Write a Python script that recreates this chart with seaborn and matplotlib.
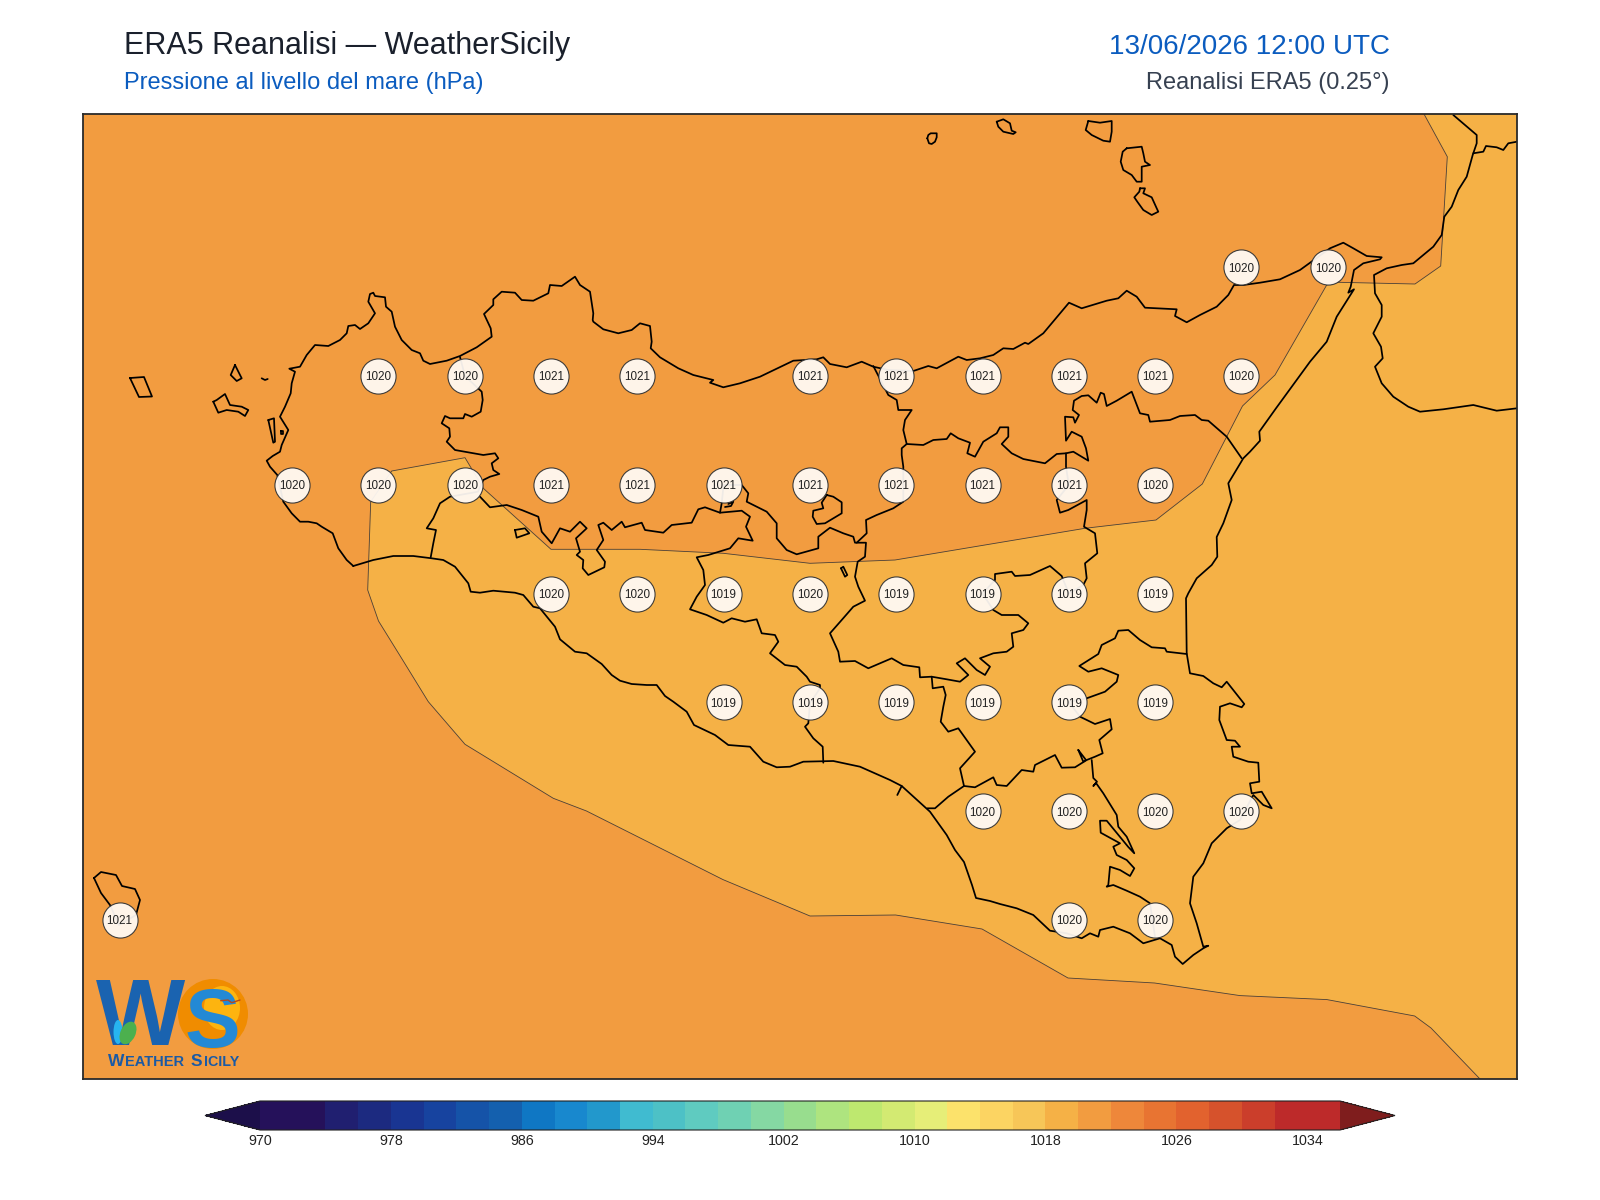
import numpy as np
import pandas as pd
import seaborn as sns
import matplotlib.pyplot as plt
from matplotlib.cm import ScalarMappable
from matplotlib.colors import BoundaryNorm, ListedColormap
from matplotlib.patches import Circle, Ellipse

# Pressure read at the ERA5 grid points
LABEL_LON = [15.25, 15.5,
             12.75, 13.0, 13.25, 13.5, 14.0, 14.25, 14.5, 14.75, 15.0, 15.25,
             12.5, 12.75, 13.0, 13.25, 13.5, 13.75, 14.0, 14.25, 14.5, 14.75, 15.0,
             13.25, 13.5, 13.75, 14.0, 14.25, 14.5, 14.75, 15.0,
             13.75, 14.0, 14.25, 14.5, 14.75, 15.0,
             14.5, 14.75, 15.0, 15.25,
             12.0, 14.75, 15.0]
LABEL_LAT = [38.25] * 2 + [38.0] * 10 + [37.75] * 11 + [37.5] * 8 + [37.25] * 6 + [37.0] * 4 + [36.75] * 3
LABEL_HPA = [1020, 1020,
             1020, 1020, 1021, 1021, 1021, 1021, 1021, 1021, 1021, 1020,
             1020, 1020, 1020, 1021, 1021, 1021, 1021, 1021, 1021, 1021, 1020,
             1020, 1020, 1019, 1020, 1019, 1019, 1019, 1019,
             1019, 1019, 1019, 1019, 1019, 1019,
             1020, 1020, 1020, 1020,
             1021, 1020, 1020]

# Colour bar
LEVELS = list(range(970, 1037, 2))
TICKS = list(range(970, 1035, 8))
LEVEL_COLORS = ["#25115A", "#25115A", "#201F70", "#1C2A80", "#193592", "#17439F", "#1553A8", "#1460AE",
                "#0F77C4", "#1888CE", "#2298CC", "#40BBD0", "#4DC1C6", "#5FCBC0", "#6FD1B3", "#85D8A3",
                "#98DD8E", "#AEE47F", "#BEE86F", "#D3EA72", "#E6EE78", "#FCE26B", "#FCD462", "#F7C658",
                "#F5B146", "#F29C40", "#EE873A", "#E87432", "#E2622E", "#D6522C", "#CB3E2B", "#BD2A2A",
                "#BD2A2A"]
UNDER_COLOR = "#1C0F4A"
OVER_COLOR = "#7F1D1D"

# Map traces in image pixels (converted to lon/lat below)
ISO_1020 = [(1424, 114), (1447.3, 156.7), (1440.7, 266), (1415, 284), (1338.3, 282.3), (1326.7, 285), (1275, 375),
            (1242.5, 406), (1202.3, 484), (1156, 520), (1085, 528.3), (895, 560), (810, 563.3), (723.3, 553.3),
            (640, 549.3), (551, 549.3), (483.3, 488.3), (465, 457.7), (391.7, 471), (370.7, 501.7), (367.7, 590),
            (378.5, 621), (400, 655.7), (428.3, 701.7), (465, 744.3), (553.3, 798.3), (586.5, 811), (723, 879.6),
            (810, 916), (895.6, 915), (982, 929), (1068, 978), (1154.6, 983), (1240, 995.6), (1327, 999.6),
            (1414.7, 1016), (1431, 1028), (1480, 1079)]

COAST = [(353.3, 566), (346.7, 560), (338.3, 548.3), (332.7, 533.3), (321.7, 526.7), (316.7, 523.3), (308.3, 521.7),
         (300, 521.7), (291.7, 513.3), (283.3, 501.7), (277.3, 475), (270, 466.7), (266.7, 460.7), (272.7, 456),
         (280, 451.7), (281.7, 445), (288.3, 430), (280, 416.7), (285, 406.7), (290.7, 393.3), (291.7, 383.3),
         (295, 371.7), (289.3, 368.7), (300, 366.7), (306.7, 355), (315, 345), (328.3, 346), (340, 340),
         (346.7, 333.3), (348.3, 326), (355, 325), (360, 329), (368.3, 323.3), (375, 313.3), (368.3, 301.7),
         (370, 294), (373.3, 292.7), (375, 296), (385, 297.3), (386, 306.7), (391.7, 311.7), (395, 326.7),
         (401.7, 340), (411.7, 350), (420, 353.3), (423.3, 360.7), (430, 364), (446.7, 360.7), (460, 356),
         (476.7, 347.3), (491.7, 336.7), (490.7, 328.3), (484, 314), (493.3, 305), (493.3, 299.3), (501.7, 291.7),
         (515, 292.7), (521.7, 300), (533.3, 300.7), (548.3, 293.3), (550, 285), (561.7, 286), (575, 276.7),
         (580, 285), (590, 291.7), (593.3, 313.3), (592.7, 320), (593.3, 321.7), (603.3, 329.3), (618.3, 333.3),
         (631.7, 330), (640, 323.3), (650, 326), (651.7, 341.7), (650.7, 348.3), (660, 357.3), (678.3, 368.3),
         (693.3, 375), (713.3, 380), (710, 382.7), (723.3, 387.3), (740, 383.3), (760, 376.7), (793.3, 360.7),
         (816.7, 359.3), (823.3, 357.3), (830, 364), (846.7, 367.3), (861.7, 361.7), (873.3, 366.7), (888.3, 370),
         (913.3, 371), (928.3, 366), (936.7, 368.3), (958.3, 356.7), (966.7, 360), (980, 358.3), (993.3, 355),
         (1003.3, 348.3), (1013.3, 349), (1025, 342.7), (1028.3, 344), (1043.3, 333.3), (1069, 302.7),
         (1081.7, 308.3), (1106.7, 300.7), (1118.3, 298.3), (1126.7, 290.7), (1136.7, 296.7), (1145, 307.7),
         (1176.7, 309.3), (1175, 316), (1186.7, 322.3), (1200, 315), (1216.7, 306.7), (1228.3, 295), (1234, 285),
         (1243.3, 285), (1260, 282.7), (1280, 279.3), (1300, 270), (1330, 248.3), (1343.3, 242.7), (1353.3, 248.3),
         (1366.7, 256), (1381.7, 257.3), (1380, 259.3), (1363.3, 263.3), (1354, 270), (1350.7, 286.7),
         (1348.3, 292.7), (1354, 289.3), (1336.7, 316.7), (1326.7, 341.7), (1310, 361.7), (1276, 408.3),
         (1259.3, 431.7), (1260, 440.7), (1250, 451.7), (1243.3, 458.3), (1228.3, 483.3), (1231.7, 500),
         (1223.3, 523.3), (1216.7, 537), (1217.3, 556.7), (1211.7, 565), (1196.7, 578.3), (1188.3, 593.3),
         (1186, 598.3), (1186.7, 653.3), (1190, 673.3), (1203.3, 676), (1213.3, 683.3), (1221.7, 687.3),
         (1226.7, 681.7), (1244.3, 704), (1241.7, 707.3), (1230, 703.3), (1220, 706.7), (1219.3, 720), (1226.7, 740),
         (1235, 740.7), (1240, 746.7), (1231.7, 746.7), (1233.3, 756.7), (1248.3, 761.7), (1258.3, 762.7),
         (1259.3, 781.7), (1250, 783.3), (1251.7, 793.3), (1261.7, 791.7), (1271.7, 808.3), (1263.3, 805),
         (1253.3, 795), (1240, 820), (1226.7, 828.3), (1211.7, 843.3), (1203.3, 863.3), (1193.3, 876.7),
         (1190, 903.3), (1196.7, 923.3), (1203.3, 946.7), (1208.3, 945.7), (1203.3, 948.3), (1193.3, 955),
         (1182.7, 964), (1175, 956.7), (1171.7, 945), (1160, 938.3), (1143.3, 943.3), (1130, 933.3), (1113.3, 926.7),
         (1100, 930), (1098.3, 936.7), (1090, 933.3), (1081.7, 938.3), (1066.7, 933.3), (1050, 930.7), (1033.3, 915),
         (1016.7, 908.3), (1000, 904), (990, 901), (976, 898), (972, 885), (964, 862), (955, 850), (946.7, 835),
         (930, 811.7), (901.7, 786), (890, 780), (860, 766.7), (833.3, 761), (803.3, 761.7), (790, 766.7),
         (776.7, 767.3), (763.3, 761.7), (750, 746.7), (728.3, 745), (715, 735), (694, 725), (686.7, 711.7),
         (673.3, 701.7), (665, 696), (656.7, 685), (646.7, 685), (631.7, 684), (620, 680.7), (611.7, 675),
         (601.7, 664), (586.7, 653.3), (575, 651.7), (560, 639.3), (555, 626.7), (540, 608.3), (533.3, 606.7),
         (523.3, 595), (515, 592.7), (493.3, 590.7), (480, 592.7), (470.7, 591.7), (468.3, 583.3), (455, 566.7),
         (443.3, 560), (431.7, 558.3), (413.3, 556), (393.3, 556), (373.3, 560), (353.3, 566)]

GELA_STUB = [(901.7, 786), (897.3, 795)]

BORDER_TP_PA = [(460, 357), (465, 376), (481.7, 391.7), (482.7, 400), (480.7, 411.7), (471.7, 416.7), (465, 414),
                (463.3, 418.3), (450, 418.3), (445, 416), (441.7, 423.3), (449.3, 428.3), (450, 436.7), (446.7, 441.7),
                (455, 450), (483.3, 455), (495, 453.3), (498.3, 458.3), (491.7, 463.3), (493.3, 470), (499.3, 474),
                (490, 476.7), (483.3, 480), (478, 491.7), (450, 496.7), (440, 503.3), (433.3, 518.3), (426.7, 528.3),
                (436, 530), (433.3, 543.3), (430.7, 557.3)]

BORDER_PA_AG = [(480, 496.7), (490, 507.3), (506.7, 505), (521.7, 510), (538.3, 516.7), (541.7, 531.7), (551.7, 543.3),
                (560, 528.3), (570, 531.7), (580, 521.7), (586.7, 528.3), (576, 538.3), (580, 551.7), (576.7, 555),
                (583.3, 560), (582.7, 568.3), (588.3, 575), (604.3, 567.3), (605, 561.7), (596.7, 550), (603.3, 540),
                (598.3, 525), (603.3, 522.7), (611.7, 530), (621.7, 521.7), (625, 527.3), (641.7, 522.7), (645, 530),
                (663.3, 532.7), (671.7, 525), (691.7, 522.7), (698.3, 509.3), (705, 507.3), (720, 512.7),
                (741.7, 510.7), (750, 516.7), (746, 526.7), (752.7, 540.7), (738.3, 538.3), (730, 548.3),
                (708.3, 555), (696.7, 557.3), (703.3, 570), (705, 585), (696.7, 596.7), (690, 609.3), (706.7, 615),
                (723.3, 622.7), (731.7, 618.3), (745, 621.7), (756.7, 619.3), (761.7, 633.3), (775, 635),
                (778.3, 641.7), (770, 653.3), (785, 665), (796.7, 666.7), (806.7, 676.7), (810, 681.7), (820, 685),
                (820, 688.3), (810, 703.3), (808.3, 723.3), (805, 726.7), (813.3, 738.3), (822.7, 746.7),
                (823.3, 762.7)]

BORDER_CL_PA = [(720, 512.7), (721.7, 503.3), (723.6, 485), (741.7, 485), (748.3, 493.3), (746.7, 501.7),
                (766.7, 511.7), (776.7, 523.3), (776.7, 538.3), (786.7, 550), (796.7, 554.3), (818.3, 548.3),
                (818.3, 536.7), (830, 527.7), (843.3, 533.3), (853.3, 536.7), (855, 542.7), (866, 542.7),
                (865, 556.7), (857.7, 561.7), (855, 576.7), (858.3, 586.7), (865, 600.7), (853.3, 606.7),
                (841.7, 620), (830, 633.3), (838.3, 651.7), (840, 661.7), (855, 661), (868.3, 668.3), (891.7, 658.3),
                (903.3, 665), (919.3, 667.3), (920, 677.3), (931.7, 676.7), (946.7, 679.3), (960, 681.7),
                (968.3, 675), (956.7, 663.3), (965, 658.3), (976.7, 670), (985, 675), (990, 666.7), (980, 658.3),
                (993.3, 653.3), (1006.7, 651.7), (1013.3, 646.7), (1011.7, 633.3), (1023.3, 630), (1028.3, 623.3),
                (1018.3, 615), (1001.7, 615), (993.3, 610), (982.5, 593.5), (995, 580), (995, 574), (1011.7, 571.7),
                (1015, 576), (1030, 575), (1050, 566), (1061.7, 576), (1068.8, 593.5), (1083.3, 585), (1086.7, 578.3),
                (1085, 563.3), (1097.3, 553.3), (1095, 533.3), (1084, 526.7), (1086.7, 510), (1086.7, 500),
                (1068.3, 510), (1060, 512.7), (1056.7, 500), (1068.8, 485), (1066, 466.7), (1066, 453.3)]

ENCLAVE_KNOT = [(728.3, 504), (733.3, 501.7), (731, 506), (725, 507)]
ENCLAVE_GANGI = [(826.7, 495), (833.3, 496.7), (841.7, 502.3), (841.7, 513.3), (825, 523.3), (816.7, 524), (812.7, 516.7),
                 (813.3, 510.7), (823.3, 508.3), (821.7, 502.7), (826.7, 495)]

BORDER_PA_EN = [(873.3, 366), (888.3, 395), (896.7, 400), (898.3, 410), (911.7, 410), (905, 420), (903.3, 430),
                (906.7, 444), (901.7, 448.3), (901.7, 455), (903.3, 466.7), (903.3, 501.7), (893.3, 508.3),
                (876.7, 515), (866, 520), (866.7, 533.3), (856.7, 542.7)]

BORDER_ME_EN = [(906.7, 444), (923.3, 445), (933.3, 440), (946.7, 439), (950.7, 433.3), (958.3, 438.3), (970, 442.7),
                (967.3, 453.3), (975, 456.7), (983.3, 441.7), (996.7, 433.3), (1000, 427.3), (1008.3, 427.3),
                (1008.3, 436.7), (1001.7, 444), (1011.7, 453.3), (1023.3, 459), (1045, 463.3), (1056.7, 454),
                (1066, 453.3), (1073.3, 451.7), (1088.3, 460.7), (1086, 448.3), (1081.7, 436.7), (1071.7, 431.7),
                (1066, 440.7), (1065, 416.7), (1073.3, 417.3), (1075, 422.7), (1079, 415), (1072.7, 410),
                (1074, 400.7), (1081.7, 396), (1088.3, 395.3), (1096.7, 402.7), (1100.7, 392.7), (1104, 394),
                (1106.7, 406), (1116.7, 400.7), (1131.7, 391.7), (1140, 413.3), (1148.3, 415), (1150, 421.7),
                (1170, 420), (1180, 416), (1195, 415), (1201.7, 420), (1208.3, 420.7), (1226.7, 436.7), (1241.7, 458.3)]

BORDER_CL_CT = [(931.7, 676.7), (932.7, 688.3), (943.3, 686.7), (945.7, 695), (943.3, 706.7), (940.7, 721.7), (948.3, 731.7),
                (958.3, 728.3), (975, 751.7), (960, 768.3), (964, 786), (948.3, 796.7), (935, 808.3), (927.3, 808.3)]

BORDER_RG_CT = [(964, 786), (975, 787.3), (993.3, 777.3), (996.7, 785), (1006.7, 786), (1021.7, 770), (1033.3, 771.7),
                (1035, 765), (1055, 755), (1061.7, 767.7), (1075, 767.3), (1086.7, 760), (1095, 756.7), (1102.7, 753.3),
                (1099.3, 740), (1111.7, 729.3), (1110, 719), (1095, 724), (1080, 716.7), (1068.8, 702)]

LENTINI_TRIANGLE = [(1078.3, 750), (1086, 760), (1083.3, 761.7), (1078.3, 750)]

BORDER_CT_SR = [(1068.8, 702), (1086.7, 698.3), (1105, 691.7), (1116.7, 681.7), (1118.3, 675), (1101.7, 668.3),
                (1088.3, 671.7), (1079.3, 666), (1098.3, 654), (1101.7, 645), (1115, 638.3), (1118.3, 630.7),
                (1128.3, 630), (1140, 640), (1151.7, 647.3), (1165, 648.3), (1166.7, 651.7), (1186.7, 654)]

BORDER_RG_SR = [(1091.7, 760), (1093.3, 778), (1097, 781.7), (1093.3, 786), (1096, 783), (1103.3, 793.3), (1116.7, 815),
                (1118.3, 826.7), (1126.7, 836.7), (1134.3, 853.3), (1128.3, 847), (1106.7, 820.7), (1100, 820.7),
                (1100.7, 832.7), (1120, 843.3), (1113.3, 846.7), (1116.7, 855), (1126.7, 860), (1134.3, 868.3),
                (1130, 876), (1120, 870), (1110, 866.7), (1108.3, 885), (1106.7, 886.7), (1113.3, 885), (1126.7, 890.7),
                (1140, 896.7), (1150, 903.3), (1155, 936.7)]

FAVIGNANA = [(213.3, 401.7), (216.7, 400), (225, 394), (230, 405), (241.7, 406.7), (248.3, 410), (245, 416), (238.3, 411.7),
             (226.7, 410), (218.3, 412.7), (213.3, 401.7)]
LEVANZO = [(235, 365), (241.7, 378.3), (236.7, 381), (230.7, 375), (235, 365)]
FORMICA = [(261.7, 378.3), (265, 380), (267.7, 379)]
ISOLA_LUNGA = [(268.3, 420), (274, 418.3), (275, 441.7), (273.3, 442.7), (268.3, 420)]
MOZIA = [(280.5, 431), (282.5, 431), (282.5, 433.5), (280.5, 433.5), (280.5, 431)]
MARETTIMO = [(130, 378), (144, 377), (152, 396.5), (139, 397), (130, 378)]
USTICA = [(927.3, 138.3), (928.3, 135), (930.7, 133.3), (936.7, 133.3), (936.7, 137.3), (935, 141.7), (931.7, 144),
          (929, 143.3), (927.3, 138.3)]
FILICUDI = [(996.7, 121.7), (1003.3, 119.3), (1010, 123.3), (1011.7, 130.7), (1015.7, 132.3), (1013.3, 134),
            (1003.3, 131.7), (998.3, 126.7), (996.7, 121.7)]
SALINA = [(1088.3, 121), (1100, 122.7), (1111.7, 121), (1111.7, 131.7), (1110, 141.7), (1103.3, 140.7), (1091.7, 135),
          (1085.7, 130), (1088.3, 121)]
LIPARI = [(1126.7, 148.3), (1141.7, 146.7), (1143.3, 153.3), (1145, 161.7), (1150, 165), (1141.7, 166.7), (1141.7, 181.7),
          (1136.7, 181.7), (1131.7, 175), (1123.3, 170), (1120.7, 161.7), (1122.7, 151.7), (1126.7, 148.3)]
VULCANO = [(1140, 188.3), (1145, 188.3), (1143.3, 193.3), (1151.7, 197.3), (1156.7, 208.3), (1158.3, 211.7), (1151.7, 215),
           (1143.3, 210), (1137.3, 201.7), (1134.3, 197.3), (1139.3, 191.7), (1140, 188.3)]
PANTELLERIA = [(94, 878), (101, 872), (116, 875), (122, 886), (135, 889), (140, 900), (136, 915), (119, 925), (110, 905),
               (101, 893), (94, 878)]
LAKE_A = [(515, 530), (525, 528.3), (529.3, 533.3), (516.7, 537.7), (515, 530)]
LAKE_B = [(841, 568.3), (843.3, 566.7), (847.3, 575), (845, 576.7), (841, 568.3)]

CALABRIA = [(1453.3, 115), (1465, 125), (1476.7, 135), (1476.7, 143.3), (1472.7, 155), (1466.7, 176.7), (1458.3, 190),
            (1451.7, 206.7), (1444.3, 216.7), (1441.7, 235), (1433.3, 246.7), (1413.3, 263.3), (1401.7, 265),
            (1386.7, 268.3), (1374, 275), (1375, 293.3), (1381.7, 305), (1381.7, 316.7), (1373.3, 333.3), (1381, 346.7),
            (1382.7, 358.3), (1375, 366.7), (1381.7, 383.3), (1393.3, 396.7), (1408.3, 406.7), (1420, 411.7),
            (1443.3, 409.3), (1473.3, 405), (1496.7, 410.7), (1517, 408.3)]
CALABRIA_INLAND = [(1473.3, 153.3), (1483.3, 151.7), (1486, 146), (1496.7, 147.3), (1503.3, 150), (1508.3, 143.3), (1517, 141.7)]

MAP_PATHS = [COAST, GELA_STUB, BORDER_TP_PA, BORDER_PA_AG, BORDER_CL_PA, ENCLAVE_KNOT, ENCLAVE_GANGI, BORDER_PA_EN,
             BORDER_ME_EN, BORDER_CL_CT, BORDER_RG_CT, LENTINI_TRIANGLE, BORDER_CT_SR, BORDER_RG_SR, FAVIGNANA, LEVANZO,
             FORMICA, ISOLA_LUNGA, MOZIA, MARETTIMO, USTICA, FILICUDI, SALINA, LIPARI, VULCANO, PANTELLERIA, LAKE_A,
             LAKE_B, CALABRIA, CALABRIA_INLAND]


def to_lonlat(trace):
    px = np.array(trace, dtype=float)
    lon = 12.0 + (px[:, 0] - 119.5) / 345.2
    lat = 38.0 - (px[:, 1] - 376.0) / 435.2
    return lon, lat


def paths_frame(paths):
    """Long table of all outlines, one id per path."""
    frames = []
    for i, trace in enumerate(paths):
        lon, lat = to_lonlat(trace)
        frames.append(pd.DataFrame({"lon": lon, "lat": lat, "path": i}))
    return pd.concat(frames, ignore_index=True)


def draw_map(ax, cmap, norm):
    iso_lon, iso_lat = to_lonlat(ISO_1020)
    x_min, y_max = to_lonlat([(83, 114)])
    x_max, y_min = to_lonlat([(1517, 1079)])

    # 1020-1022 is the background, 1018-1020 the band east and south of the isobar
    ax.set_facecolor(cmap(norm(1021)))
    ax.fill(np.r_[iso_lon, x_max, x_max], np.r_[iso_lat, y_min, y_max], color=cmap(norm(1019)), lw=0)
    sns.lineplot(x=iso_lon, y=iso_lat, sort=False, estimator=None, color="#4A4038", linewidth=0.6, ax=ax)

    sns.lineplot(data=paths_frame(MAP_PATHS), x="lon", y="lat", units="path", estimator=None, sort=False,
                 color="black", linewidth=1.25, ax=ax)

    sns.scatterplot(x=LABEL_LON, y=LABEL_LAT, s=640, color="#FFFAF5", alpha=0.94, edgecolor="#333333",
                    linewidth=0.8, zorder=5, ax=ax)
    for lon, lat, hpa in zip(LABEL_LON, LABEL_LAT, LABEL_HPA):
        ax.text(lon, lat, str(hpa), ha="center", va="center_baseline", fontsize=8.4, color="#222222", zorder=6)

    ax.set_xlim(x_min[0], x_max[0])
    ax.set_ylim(y_min[0], y_max[0])
    ax.set_xlabel("")
    ax.set_ylabel("")
    ax.set_xticks([])
    ax.set_yticks([])
    for spine in ax.spines.values():
        spine.set_visible(True)
        spine.set_color("#2A2A2A")
        spine.set_linewidth(1.3)


def draw_logo(fig):
    # overlay in figure pixels, only for the logo
    ov = fig.add_axes([0, 0, 1, 1], xlim=(0, 1600), ylim=(1200, 0), zorder=10)
    ov.axis("off")
    ov.patch.set_alpha(0)
    ov.add_patch(Circle((213, 1014), 35, color="#F08C00", lw=0))
    ov.add_patch(Ellipse((222, 1008), 36, 44, color="#FDB40F", lw=0))
    ov.text(96, 1045, "W", fontsize=68, fontweight="bold", color="#1A63B0", va="baseline", ha="left")
    ov.text(185, 1047, "S", fontsize=60, fontweight="bold", color="#2389D5", va="baseline", ha="left")
    ov.add_patch(Ellipse((118, 1032), 9, 24, color="#27B5F0", lw=0, zorder=4))
    ov.add_patch(Ellipse((128, 1033), 15, 24, angle=25, color="#4CB04E", lw=0, zorder=4))
    ov.plot([220.7, 228, 231.7, 240], [1000.7, 1000, 1002.7, 1000], color="#B5491B", lw=1, zorder=5)
    for x, s, size in [(108, "W", 12.5), (125, "EATHER", 10.5), (191, "S", 12.5), (204, "ICILY", 10.3)]:
        ov.text(x, 1065.5, s, fontsize=size, fontweight="bold", color="#1A5AA5", va="baseline", ha="left")


def main():
    sns.set_theme(style="white")
    plt.rcParams["font.family"] = ["Liberation Sans", "DejaVu Sans"]

    cmap = ListedColormap(LEVEL_COLORS).with_extremes(under=UNDER_COLOR, over=OVER_COLOR)
    norm = BoundaryNorm(LEVELS, cmap.N)

    fig = plt.figure(figsize=(16, 12), dpi=100)
    ax = fig.add_axes([83 / 1600, 1 - 1079 / 1200, 1434 / 1600, 965 / 1200])
    draw_map(ax, cmap, norm)
    draw_logo(fig)

    # the extend tips sit inside this box
    cax = fig.add_axes([205 / 1600, 1 - 1130 / 1200, 1190 / 1600, 29 / 1200])
    cbar = fig.colorbar(ScalarMappable(norm=norm, cmap=cmap), cax=cax, orientation="horizontal", extend="both",
                        extendfrac=55 / 1080, ticks=TICKS, spacing="proportional")
    cbar.minorticks_off()
    cbar.ax.tick_params(which="both", length=0, pad=3, labelsize=10.3, labelcolor="#222222")
    cbar.outline.set_edgecolor("#222222")
    cbar.outline.set_linewidth(0.8)

    fig.text(124 / 1600, 1 - 54 / 1200, "ERA5 Reanalisi — WeatherSicily", fontsize=22, color="#1A202C", va="baseline")
    fig.text(124 / 1600, 1 - 88.5 / 1200, "Pressione al livello del mare (hPa)", fontsize=17, color="#0B5CBF", va="baseline")
    fig.text(1390 / 1600, 1 - 54 / 1200, "13/06/2026 12:00 UTC", fontsize=20, color="#0B5CBF", va="baseline", ha="right")
    fig.text(1390 / 1600, 1 - 88.5 / 1200, "Reanalisi ERA5 (0.25°)", fontsize=17, color="#374151", va="baseline", ha="right")

    fig.savefig("out.png", dpi=100)


if __name__ == "__main__":
    main()
